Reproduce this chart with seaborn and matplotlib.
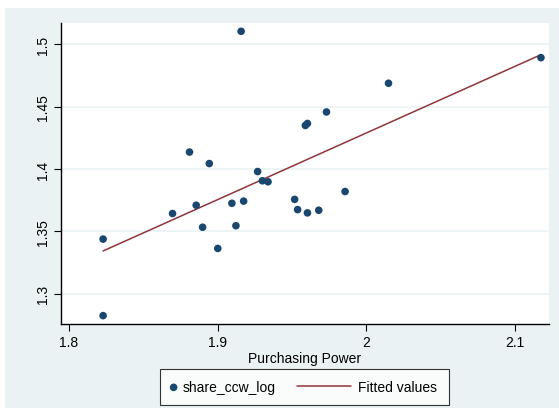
import pandas as pd
import seaborn as sns
import matplotlib.pyplot as plt
from matplotlib.patches import Rectangle
from matplotlib.legend_handler import HandlerLine2D

# valeurs
purchasing_power = [1.8229, 1.8229, 1.8696, 1.8855, 1.8810, 1.8898, 1.8943, 1.9000,
                    1.9095, 1.9122, 1.9174, 1.9157, 1.9268, 1.9300, 1.9338, 1.9517,
                    1.9537, 1.9589, 1.9603, 1.9603, 1.9679, 1.9731, 1.9856, 2.0148,
                    2.1173]
share_ccw_log = [1.2826, 1.3439, 1.3644, 1.3710, 1.4136, 1.3534, 1.4044, 1.3364,
                 1.3726, 1.3546, 1.3743, 1.5103, 1.3980, 1.3906, 1.3898, 1.3757,
                 1.3675, 1.4349, 1.4365, 1.3649, 1.3670, 1.4457, 1.3820, 1.4687,
                 1.4892]
x_ticks = [1.8, 1.9, 2.0, 2.1]
x_tick_labels = ['1.8', '1.9', '2', '2.1']
y_ticks = [1.3, 1.35, 1.4, 1.45, 1.5]
y_tick_labels = ['1.3', '1.35', '1.4', '1.45', '1.5']

df = pd.DataFrame({'Purchasing Power': purchasing_power, 'share_ccw_log': share_ccw_log})

bg = '#eaf2f3'
navy = '#1a476f'
maroon = '#90353b'


class LongLineHandler(HandlerLine2D):
    # ligne de légende qui déborde à gauche de la case
    def __init__(self, extra, **kw):
        super().__init__(**kw)
        self.extra = extra

    def create_artists(self, legend, orig_handle, xdescent, ydescent, width, height, fontsize, trans):
        return super().create_artists(legend, orig_handle, xdescent + self.extra, ydescent,
                                      width + self.extra, height, fontsize, trans)


sns.set_style('white')
plt.rcParams['font.family'] = ['Liberation Sans', 'DejaVu Sans']
plt.rcParams['font.size'] = 10
plt.rcParams['text.color'] = 'black'

fig = plt.figure(figsize=(5.59, 4.10), dpi=100, facecolor='white')
fig.patches.append(Rectangle((5 / 559, 1 / 410), 554 / 559, 400 / 410,
                             transform=fig.transFigure, facecolor=bg, edgecolor='none', zorder=-1))
ax = fig.add_axes([0.1086, 0.2073, 0.874, 0.734])
ax.set_facecolor('white')

sns.scatterplot(data=df, x='Purchasing Power', y='share_ccw_log', ax=ax, color=navy,
                s=30, edgecolor='none', label='share_ccw_log', zorder=3)
sns.regplot(data=df, x='Purchasing Power', y='share_ccw_log', ax=ax, scatter=False, ci=None,
            color=maroon, line_kws={'linewidth': 1.1}, label='Fitted values')

ax.set_xlim(1.7944, 2.1229)
ax.set_ylim(1.2759, 1.5169)
ax.set_xticks(x_ticks, x_tick_labels)
ax.set_yticks(y_ticks, y_tick_labels)
ax.tick_params(axis='y', labelrotation=90)
for lab in ax.get_yticklabels():
    lab.set_va('center')
ax.tick_params(axis='both', direction='out', length=5, width=0.8, color='black',
               labelcolor='black', labelsize=10, pad=3, left=True, bottom=True)
ax.grid(axis='y', color=bg, linewidth=1.2)
ax.grid(axis='x', visible=False)
ax.set_axisbelow(True)
for side in ['top', 'right']:
    ax.spines[side].set_visible(False)
for side in ['left', 'bottom']:
    ax.spines[side].set_color('black')
    ax.spines[side].set_linewidth(1.0)
ax.set_xlabel('Purchasing Power', fontsize=10, labelpad=1, color='black')
ax.set_ylabel('')

handles, labels = ax.get_legend_handles_labels()
if ax.get_legend():
    ax.get_legend().remove()
leg = fig.legend(handles, labels, loc='center', bbox_to_anchor=(304.5 / 559, 1 - 388 / 410),
                 ncol=2, frameon=True, fancybox=False, edgecolor='black', fontsize=10,
                 handlelength=0.3, columnspacing=5.1, borderpad=0.8, handletextpad=0.53,
                 handler_map={handles[1]: LongLineHandler(36)})
leg.get_frame().set_linewidth(0.8)

fig.savefig('out.png', dpi=100, facecolor='white')
